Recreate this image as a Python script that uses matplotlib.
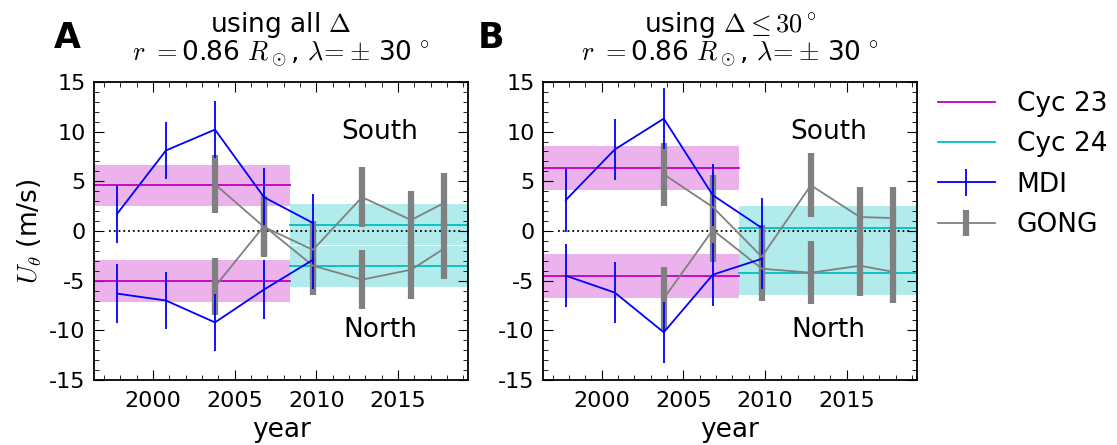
import numpy as np
import matplotlib
matplotlib.use('Agg')
import matplotlib.pyplot as plt
from matplotlib.ticker import MultipleLocator

plt.rcParams['mathtext.fontset'] = 'cm'
plt.rcParams['axes.unicode_minus'] = False
plt.rcParams['font.size'] = 16
plt.rcParams['xtick.direction'] = 'in'
plt.rcParams['ytick.direction'] = 'in'
plt.rcParams['xtick.top'] = True
plt.rcParams['ytick.right'] = True
plt.rcParams['xtick.major.size'] = 7
plt.rcParams['ytick.major.size'] = 7
plt.rcParams['xtick.minor.size'] = 3.5
plt.rcParams['ytick.minor.size'] = 3.5
plt.rcParams['xtick.major.pad'] = 8
plt.rcParams['ytick.major.pad'] = 6

# year of each measurement
mdi_year = [1997.8, 2000.8, 2003.8, 2006.8, 2009.8]
gong_year = [2003.8, 2006.8, 2009.8, 2012.8, 2015.8, 2017.8]
cyc_split = 2008.4  # boundary between cycle 23 and 24 averages

# panel A: all Delta
A_mdi_S = [1.7, 8.1, 10.2, 3.4, 0.8]
A_mdi_N = [-6.3, -7.0, -9.2, -5.9, -2.9]
A_mdi_err = [2.95, 2.9, 2.9, 2.95, 2.9]
A_gong_S = [4.7, 0.4, -1.9, 3.4, 1.1, 2.8]
A_gong_N = [-5.6, 0.5, -3.5, -4.9, -3.9, -1.8]
A_gong_err = [2.9, 3.0, 2.9, 3.0, 2.9, 3.0]
A_c23 = [4.6, -5.05]
A_c23_err = 2.08
A_c24 = [0.63, -3.54]
A_c24_err = 2.05

# panel B: Delta <= 30 deg
B_mdi_S = [3.1, 8.2, 11.3, 3.6, 0.3]
B_mdi_N = [-4.5, -6.2, -10.2, -4.4, -2.8]
B_mdi_err = [3.2, 3.1, 3.05, 3.15, 3.05]
B_gong_S = [5.7, 2.4, -2.6, 4.6, 1.4, 1.3]
B_gong_N = [-6.8, 0.1, -3.8, -4.2, -3.5, -4.1]
B_gong_err = [3.2, 3.2, 3.2, 3.2, 3.05, 3.15]
B_c23 = [6.3, -4.5]
B_c23_err = 2.21
B_c24 = [0.25, -4.2]
B_c24_err = 2.22

xlim = (1996.4, 2019.3)

fig = plt.figure(figsize=(11.17, 4.45), dpi=100)
axA = fig.add_axes([0.0842, 0.146, 0.335, 0.67])
axB = fig.add_axes([0.486, 0.146, 0.335, 0.67])


def panel(ax, mdi_S, mdi_N, mdi_err, gong_S, gong_N, gong_err,
          c23, c23_err, c24, c24_err):
    for v in c23:
        ax.fill_between([xlim[0], cyc_split], v - c23_err, v + c23_err,
                        color='m', alpha=0.3, lw=0)
    for v in c24:
        ax.fill_between([cyc_split, xlim[1]], v - c24_err, v + c24_err,
                        color='c', alpha=0.3, lw=0)
    for i, v in enumerate(c23):
        ax.plot([xlim[0], cyc_split], [v, v], color='m', lw=1.3,
                label='Cyc 23' if i == 0 else None)
    for i, v in enumerate(c24):
        ax.plot([cyc_split, xlim[1]], [v, v], color='c', lw=1.3,
                label='Cyc 24' if i == 0 else None)
    ax.plot([1997.3, 2018.9], [0, 0], 'k:', lw=1.3)
    ax.errorbar(gong_year, gong_S, yerr=gong_err, color='0.5', lw=1.3,
                elinewidth=4.5, label='GONG')
    ax.errorbar(gong_year, gong_N, yerr=gong_err, color='0.5', lw=1.3,
                elinewidth=4.5)
    ax.errorbar(mdi_year, mdi_S, yerr=mdi_err, color='b', lw=1.3,
                elinewidth=1.3, label='MDI')
    ax.errorbar(mdi_year, mdi_N, yerr=mdi_err, color='b', lw=1.3,
                elinewidth=1.3)
    ax.text(2013.9, 10, 'South', ha='center', va='center', fontsize=19)
    ax.text(2013.9, -10, 'North', ha='center', va='center', fontsize=19)
    ax.set_xlim(xlim)
    ax.set_ylim(-15, 15)
    ax.set_xticks([2000, 2005, 2010, 2015])
    ax.set_yticks(np.arange(-15, 16, 5))
    ax.xaxis.set_minor_locator(MultipleLocator(1))
    ax.yaxis.set_minor_locator(MultipleLocator(1))
    ax.set_xlabel('year', fontsize=19, labelpad=4)
    for s in ax.spines.values():
        s.set_linewidth(1.3)


panel(axA, A_mdi_S, A_mdi_N, A_mdi_err, A_gong_S, A_gong_N, A_gong_err,
      A_c23, A_c23_err, A_c24, A_c24_err)
panel(axB, B_mdi_S, B_mdi_N, B_mdi_err, B_gong_S, B_gong_N, B_gong_err,
      B_c23, B_c23_err, B_c24, B_c24_err)

line2 = r'$r\ =$0.86 $R_\odot$, $\lambda\!=\!\pm\,$30$\,^\circ$'
axA.set_ylabel(r'$U_\theta$ (m/s)', fontsize=19)
axA.set_title('using all $\\Delta$\n' + line2,
              fontsize=19, linespacing=0.95, pad=15)
axB.set_title('using $\\Delta\\leq 30^\\circ$\n' + line2,
              fontsize=19, linespacing=0.95, pad=15)
fig.text(0.048, 0.915, 'A', fontsize=25, fontweight='bold', va='center')
fig.text(0.428, 0.915, 'B', fontsize=25, fontweight='bold', va='center')

h, l = axA.get_legend_handles_labels()
order = [l.index(k) for k in ['Cyc 23', 'Cyc 24', 'MDI', 'GONG']]
fig.legend([h[i] for i in order], [l[i] for i in order], loc='upper left',
           bbox_to_anchor=(0.8397, 0.795), frameon=False, fontsize=19,
           borderpad=0, borderaxespad=0,
           handlelength=2.16, handletextpad=0.83, labelspacing=0.54)

fig.savefig('out.png', dpi=100, facecolor='white')
